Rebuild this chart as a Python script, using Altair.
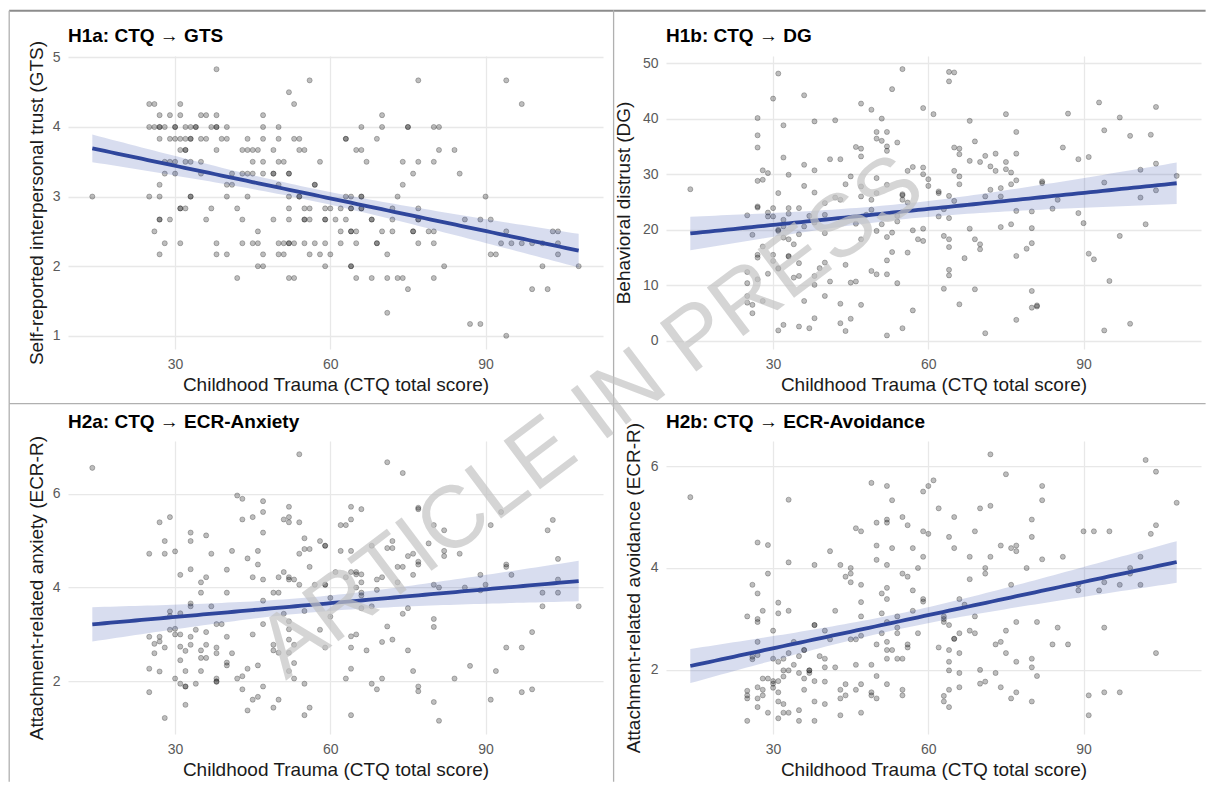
import altair as alt
import numpy as np
import pandas as pd

# ---------------- data ----------------
X_DOMAIN = [9.3, 112.7]
X_TICKS = [30, 60, 90]
X_TITLE = "Childhood Trauma (CTQ total score)"

# H1a: GTS takes values in steps of 1/6; CTQ scores per GTS level
h1a_gts_levels = [4.83, 4.67, 4.5, 4.33, 4.17, 4.0, 3.83, 3.67, 3.5, 3.33, 3.17, 3.0,
                  2.83, 2.67, 2.5, 2.33, 2.17, 2.0, 1.83, 1.67, 1.33, 1.17, 1.0]
h1a_ctq_rows = [
    [38],
    [56, 77, 94],
    [52],
    [25, 26, 31, 53, 97],
    [27, 29, 31, 35, 36, 38, 47, 70],
    [25, 26, 27, 27, 28, 30, 30, 32, 33, 34, 34, 37, 38, 38, 40, 47, 50, 66, 70, 75, 75, 80, 81],
    [27, 29, 30, 31, 32, 33, 33, 35, 36, 39, 40, 44, 47, 50, 53, 54, 63, 63, 69],
    [31, 32, 32, 38, 43, 44, 45, 46, 49, 54, 55, 65, 66, 81, 84],
    [28, 29, 30, 32, 33, 35, 45, 47, 50, 51, 58, 67, 74, 77, 80],
    [28, 30, 35, 41, 43, 44, 45, 47, 49, 49, 52, 52, 76, 85],
    [27, 40, 41, 50, 57, 57, 74],
    [14, 25, 27, 33, 33, 40, 44, 52, 54, 54, 63, 64, 66, 66, 73, 90],
    [31, 31, 32, 37, 42, 52, 55, 56, 59, 60, 62, 64, 64, 66, 66, 72, 77],
    [27, 27, 29, 36, 43, 49, 52, 55, 55, 56, 59, 59, 61, 63, 68, 68, 72, 77, 77, 86, 89, 91],
    [26, 46, 62, 64, 64, 65, 70, 72, 76, 76, 79, 80, 94, 103, 104],
    [28, 31, 38, 43, 45, 46, 50, 51, 52, 52, 53, 55, 57, 59, 62, 65, 69, 69, 77, 80, 93, 95, 97, 99, 101, 104],
    [27, 38, 40, 47, 50, 51, 56, 58, 60, 71, 91, 92, 104],
    [46, 47, 59, 64, 64, 82, 101, 108],
    [42, 52, 53, 65, 68, 71, 73, 74, 80],
    [75, 99, 102],
    [71],
    [87, 89],
    [94],
]

# H1b: (CTQ, DG)
h1b_points = [
    (14, 27.3), (27, 40.1), (27, 37), (27, 34.8), (27, 28.8), (28, 29.0), (28, 30.7), (29, 30.2),
    (30, 43.6), (31, 48.1), (32, 38.8), (32, 33), (33, 29.9), (31, 26.6), (25, 22.6), (26, 19.1),
    (27, 24.2), (27, 24.0), (29, 23.1), (29, 22.4), (30, 23.9), (30, 22.4), (31, 20), (31, 19.8),
    (32, 21.8), (32, 20.6), (33, 23.9), (33, 22.9), (32, 18.6), (33, 18.3), (34, 17.4), (35, 23.9),
    (36, 27.9), (36, 31.7), (36, 44.2), (38, 39.5), (38, 30.7), (38, 26.7), (37, 22.5), (36, 20.6),
    (35, 19.2), (38, 21.3), (25, 12.4), (25, 10.4), (25, 8.1), (25, 6.9), (26, 6.5), (26, 5),
    (27, 15.5), (27, 15), (28, 17), (27, 11.1), (28, 7.2), (29, 12.1), (30, 15.5), (30, 14.4),
    (31, 13.1), (31, 13.0), (33, 15.2), (33, 15.3), (34, 11.4), (35, 11.7), (35, 14), (36, 7.2),
    (38, 11.7), (38, 10.1), (39, 13.1), (40, 14.1), (40, 8.1), (41, 10.7), (31, 1.9), (32, 2.9),
    (35, 2.6), (37, 2.3), (38, 4.1), (40, 19.4), (40, 22.7), (40, 24.8), (41, 32.7), (42, 39.7),
    (42, 25.8), (43, 25.4), (43, 32.7), (43, 6.7), (43, 3.2), (44, 28.2), (44, 13.7), (44, 1.8),
    (45, 29.6), (45, 10.5), (45, 4), (46, 34.9), (46, 10.7), (46, 21.1), (47, 42.7), (47, 34.6),
    (47, 33.2), (47, 27.8), (47, 26), (47, 18.3), (47, 6.5), (48, 22.7), (49, 41.6), (49, 25.4),
    (49, 23.6), (49, 12.6), (50, 37.6), (50, 36.4), (50, 29.3), (50, 26.6), (50, 19.8), (50, 12),
    (51, 40), (51, 36), (51, 21), (52, 37.6), (52, 35), (52, 34.2), (52, 28.1), (52, 18.7),
    (52, 14.5), (52, 12), (52, 1), (53, 45.3), (53, 19.5), (53, 16), (54, 35.7), (54, 22.5),
    (54, 21.5), (54, 10.4), (55, 48.9), (55, 26.4), (55, 26.2), (55, 25.4), (55, 2.3), (56, 30.6),
    (56, 24.9), (56, 15.9), (57, 31.3), (57, 19.9), (57, 5.5), (58, 18.3), (59, 41.9), (59, 31.2),
    (59, 30), (59, 20.2), (59, 18), (60, 29.1), (60, 27.9), (61, 40.8), (62, 26.9), (62, 26.6),
    (62, 22.4), (63, 18.9), (63, 9.4), (64, 48.4), (65, 48.3), (64, 46.7), (64, 26.1), (64, 22.1),
    (64, 18.3), (64, 16.9), (64, 12.8), (64, 11.8), (63, 23.7), (65, 34.8), (66, 34.6), (66, 33.6),
    (65, 30.6), (66, 29.6), (66, 28.2), (65, 25.2), (66, 6.6), (67, 14.9), (68, 39.6), (68, 32.4),
    (68, 20.2), (69, 35.9), (69, 18.3), (69, 9.3), (70, 32.2), (70, 17.4), (70, 16.5), (71, 33.3),
    (71, 26), (71, 1.4), (72, 31.4), (72, 27.2), (73, 33.7), (73, 30.6), (74, 27.5), (74, 26),
    (74, 20.5), (75, 32.2), (75, 30.9), (75, 40.8), (76, 30.3), (76, 28.2), (76, 21), (77, 37.6),
    (77, 33.7), (77, 28.9), (77, 23.4), (77, 15.3), (77, 3.8), (79, 16.6), (80, 23.3), (80, 20.3),
    (80, 17.6), (80, 9), (80, 6), (81, 6.4), (81, 6.2), (82, 28.7), (82, 28.4), (84, 23.8),
    (85, 25.4), (86, 34.8), (87, 40.9), (89, 32.7), (89, 23), (90, 21.2), (91, 33.1), (91, 15.7),
    (92, 14.7), (93, 42.9), (94, 37.9), (94, 28.5), (94, 1.9), (95, 10.8), (97, 40.2), (97, 18.9),
    (99, 36.9), (99, 3.1), (101, 30.8), (101, 25.8), (102, 21), (103, 37.1), (104, 42.1), (104, 31.9),
    (104, 27.1), (108, 29.7),
]

# H2a: (CTQ, ECR-R anxiety)
h2a_points = [
    (14, 6.55), (25, 4.72), (25, 2.95), (25, 2.27), (25, 1.77), (26, 2.8), (26, 2.6), (27, 5.39),
    (27, 2.95), (27, 2.85), (27, 2.21), (28, 4.99), (28, 4.72), (28, 2.72), (28, 1.22), (29, 5.5),
    (29, 3.49), (29, 3.39), (29, 3.1), (30, 4.77), (30, 3.0), (30, 2.06), (30, 3.12), (31, 4.27),
    (31, 3.45), (31, 3.0), (31, 2.74), (31, 2.45), (31, 1.95), (32, 1.89), (32, 1.89), (32, 1.5),
    (32, 2.65), (32, 2.22), (33, 5.17), (33, 4.99), (33, 4.39), (33, 3.66), (33, 3.6), (33, 2.95),
    (33, 2.78), (34, 3.1), (34, 1.95), (35, 4.11), (35, 3.89), (35, 2.66), (35, 2.5), (35, 2.22),
    (36, 5.11), (36, 4.22), (36, 3.05), (36, 2.78), (36, 2.5), (37, 4.72), (37, 3.6), (38, 3.22),
    (38, 2.72), (38, 2.6), (38, 2.06), (38, 2.0), (38, 1.99), (39, 3.22), (40, 4.38), (40, 3.89),
    (40, 2.95), (40, 2.4), (40, 2.34), (41, 4.78), (41, 2.6), (42, 5.96), (43, 5.89), (43, 5.45),
    (42, 2.06), (43, 2.11), (43, 1.83), (44, 4.62), (44, 2.27), (44, 1.38), (45, 5.5), (45, 4.22),
    (45, 3.0), (45, 1.61), (46, 1.67), (46, 4.78), (46, 4.49), (46, 2.34), (47, 5.84), (47, 5.61),
    (47, 5.17), (47, 4.17), (47, 3.72), (47, 3.22), (47, 1.89), (49, 3.89), (49, 2.78), (49, 2.66),
    (49, 1.44), (50, 3.89), (50, 4.22), (50, 2.61), (50, 1.61), (51, 5.45), (51, 4.33), (51, 3.44),
    (52, 5.72), (52, 5.5), (52, 5.39), (52, 4.22), (52, 4.17), (52, 3.28), (52, 3.11), (52, 2.89),
    (52, 2.61), (52, 2.22), (53, 4.17), (53, 2.78), (53, 2.39), (53, 2.06), (54, 6.84), (54, 5.39),
    (54, 4.72), (54, 4.06), (55, 5.05), (55, 4.82), (55, 3.5), (55, 1.95), (55, 1.28), (56, 4.82),
    (56, 4.44), (56, 1.44), (57, 4.06), (58, 4.99), (58, 3.1), (59, 4.89), (59, 4.89), (59, 4.06),
    (59, 4.06), (59, 2.72), (60, 3.38), (60, 3.78), (61, 4.33), (62, 5.33), (63, 5.33), (62, 4.78),
    (63, 4.22), (63, 2.06), (64, 5.72), (64, 5.45), (64, 4.78), (64, 4.33), (64, 2.96), (64, 2.72),
    (64, 2.27), (64, 1.28), (65, 4.33), (65, 4.28), (65, 4.0), (65, 3.0), (66, 5.67), (66, 4.28),
    (66, 4.11), (66, 3.89), (66, 3.83), (66, 3.56), (67, 2.66), (68, 4.89), (68, 3.6), (68, 1.95),
    (69, 4.17), (69, 3.95), (69, 1.83), (70, 4.22), (70, 2.84), (70, 2.06), (71, 6.67), (71, 4.84),
    (71, 3.17), (72, 4.99), (72, 4.84), (72, 2.89), (73, 4.44), (73, 4.11), (74, 6.44), (74, 4.44),
    (74, 3.44), (75, 4.67), (75, 3.56), (75, 2.66), (76, 4.72), (76, 4.27), (76, 2.22), (77, 5.7),
    (77, 5.67), (77, 4.55), (77, 4.49), (77, 1.89), (77, 1.79), (79, 4.94), (80, 5.33), (80, 4.06),
    (80, 3.33), (80, 3.16), (80, 1.56), (81, 4.0), (81, 1.16), (82, 5.22), (82, 4.78), (82, 4.67),
    (84, 2.06), (85, 4.72), (86, 4.0), (87, 2.33), (89, 4.27), (89, 3.94), (90, 4.06), (91, 5.33),
    (91, 1.61), (92, 2.22), (93, 5.61), (94, 4.49), (94, 4.44), (94, 2.72), (95, 4.27), (97, 2.72),
    (97, 1.77), (99, 3.05), (99, 1.83), (101, 3.89), (101, 3.6), (102, 5.22), (103, 5.44), (104, 4.61),
    (104, 4.17), (104, 3.89), (108, 3.6),
]

# H2b: (CTQ, ECR-R avoidance)
h2b_points = [
    (14, 5.39), (25, 3.05), (25, 1.59), (25, 1.5), (25, 1.44), (25, 1.0), (26, 3.67), (26, 2.26),
    (26, 2.21), (27, 4.5), (27, 3.5), (27, 3.0), (27, 2.94), (27, 2.55), (27, 2.29), (27, 1.66),
    (27, 1.44), (27, 1.27), (28, 3.16), (28, 1.83), (28, 1.61), (28, 1.5), (29, 4.45), (29, 3.89),
    (29, 1.83), (29, 1.16), (30, 2.77), (30, 2.22), (30, 1.78), (30, 1.73), (30, 1.65), (31, 3.32),
    (31, 3.11), (31, 2.16), (31, 1.78), (31, 1.56), (31, 1.38), (31, 1.05), (32, 2.22), (32, 1.99),
    (32, 1.87), (32, 1.33), (32, 1.16), (33, 5.34), (33, 4.11), (33, 3.16), (33, 2.33), (33, 1.99),
    (33, 1.16), (34, 2.55), (34, 2.1), (35, 2.27), (35, 1.94), (35, 1.21), (35, 1.0), (36, 2.39),
    (36, 2.39), (36, 1.83), (36, 1.61), (37, 1.99), (37, 1.99), (37, 1.94), (38, 4.06), (38, 2.88),
    (38, 2.88), (38, 1.78), (38, 1.38), (38, 1.0), (39, 2.27), (40, 2.77), (40, 2.22), (40, 2.05),
    (40, 1.77), (40, 1.33), (41, 4.33), (41, 2.6), (42, 2.05), (42, 3.16), (43, 4.06), (43, 1.61),
    (43, 1.44), (43, 1.11), (44, 3.83), (44, 1.72), (44, 1.5), (45, 4.0), (45, 3.89), (45, 3.72),
    (45, 2.6), (46, 4.78), (46, 2.6), (46, 2.1), (46, 1.61), (47, 4.72), (47, 3.67), (47, 3.33),
    (47, 3.05), (47, 2.67), (47, 1.72), (47, 1.16), (49, 5.67), (49, 2.1), (49, 1.56), (49, 1.5),
    (50, 4.89), (50, 4.44), (50, 4.16), (50, 2.5), (50, 1.88), (50, 1.44), (51, 3.5), (51, 3.11),
    (51, 2.72), (52, 5.61), (52, 4.95), (52, 4.89), (52, 4.06), (52, 3.61), (52, 3.39), (52, 2.94),
    (52, 2.55), (52, 2.39), (52, 2.22), (52, 1.72), (53, 5.33), (53, 4.39), (53, 2.39), (54, 3.05),
    (54, 2.83), (54, 2.72), (54, 2.22), (55, 5.0), (55, 3.89), (55, 2.22), (55, 1.61), (55, 1.5),
    (56, 4.84), (56, 3.83), (56, 2.5), (56, 2.44), (57, 4.39), (57, 3.56), (57, 3.16), (58, 4.0),
    (58, 2.72), (59, 5.5), (59, 4.72), (59, 4.22), (59, 3.39), (59, 3.34), (60, 5.61), (60, 4.67),
    (61, 5.72), (62, 5.17), (62, 2.44), (63, 3.05), (63, 3.0), (63, 2.94), (63, 1.49), (63, 1.38),
    (64, 4.61), (64, 2.88), (64, 2.39), (64, 2.16), (64, 1.99), (64, 1.61), (64, 1.27), (65, 5.0),
    (65, 4.39), (65, 2.61), (65, 2.61), (66, 3.39), (66, 2.72), (66, 2.33), (66, 1.94), (66, 1.66),
    (67, 3.28), (68, 4.22), (68, 3.78), (68, 2.77), (69, 4.72), (69, 3.05), (69, 2.72), (70, 5.17),
    (70, 2.0), (70, 1.73), (71, 4.0), (71, 3.89), (71, 1.77), (72, 5.22), (72, 6.23), (72, 4.22),
    (73, 2.5), (73, 1.94), (74, 2.55), (74, 4.44), (74, 1.66), (75, 5.84), (75, 2.77), (75, 2.33),
    (76, 3.67), (76, 4.39), (76, 1.44), (77, 4.44), (77, 4.33), (77, 2.94), (77, 2.16), (77, 1.56),
    (79, 4.0), (80, 4.95), (80, 4.61), (80, 2.22), (80, 2.05), (80, 1.38), (81, 2.94), (81, 1.88),
    (82, 5.61), (82, 5.33), (82, 4.17), (84, 2.5), (85, 2.83), (86, 4.22), (87, 2.5), (89, 3.67),
    (89, 3.56), (90, 4.72), (91, 1.5), (91, 1.11), (92, 4.72), (93, 3.56), (94, 3.72), (94, 2.83),
    (94, 1.56), (95, 4.72), (97, 3.67), (97, 1.56), (99, 4.0), (99, 3.89), (101, 3.67), (101, 4.22),
    (102, 6.12), (103, 4.67), (104, 5.89), (104, 4.84), (104, 2.33), (108, 5.28),
]

panel_titles = ["H1a: CTQ \u2192 GTS", "H1b: CTQ \u2192 DG",
                "H2a: CTQ \u2192 ECR-Anxiety", "H2b: CTQ \u2192 ECR-Avoidance"]
y_titles = ["Self-reported interpersonal trust (GTS)", "Behavioral distrust (DG)",
            "Attachment-related anxiety (ECR-R)", "Attachment-related avoidance (ECR-R)"]
y_domains = [[0.81, 5.02], [-1.44, 51.26], [0.876, 7.12], [0.74, 6.49]]
y_ticks = [[1, 2, 3, 4, 5], [0, 10, 20, 30, 40, 50], [2, 4, 6], [2, 4, 6]]
watermark_text = "ARTICLE IN PRESS"

# ---------------- styling ----------------
FONT = "Liberation Sans"
W, H = 535, 293
LINE_COLOR = "#2f469c"
BAND_COLOR = "#3d55b0"
OUTER = "#8c8c8c"
INNER = "#b0b0b0"


def lm_band(x, y, n=80):
    x = np.asarray(x, float)
    y = np.asarray(y, float)
    b1, b0 = np.polyfit(x, y, 1)
    xs = np.linspace(x.min(), x.max(), n)
    fit = b0 + b1 * xs
    resid = y - (b0 + b1 * x)
    s = np.sqrt((resid ** 2).sum() / (len(x) - 2))
    sxx = ((x - x.mean()) ** 2).sum()
    se = s * np.sqrt(1.0 / len(x) + (xs - x.mean()) ** 2 / sxx)
    t = 1.97
    return pd.DataFrame({"x": xs, "fit": fit, "lo": fit - t * se, "hi": fit + t * se})


def panel(x, y, idx, title_x, borders, watermark=None):
    pts = pd.DataFrame({"ctq": x, "val": y})
    band = lm_band(x, y)
    xs = alt.Scale(domain=X_DOMAIN, nice=False, zero=False)
    ys = alt.Scale(domain=y_domains[idx], nice=False, zero=False)
    xa = alt.Axis(values=X_TICKS, title=X_TITLE, titleY=35.5, titleBaseline="middle")
    ya = alt.Axis(values=y_ticks[idx], title=y_titles[idx], titleX=title_x,
                  titleBaseline="middle")

    points = alt.Chart(pts).mark_circle(
        size=26, fill="black", fillOpacity=0.26, stroke="black",
        strokeOpacity=0.3, strokeWidth=0.8
    ).encode(
        x=alt.X("ctq:Q", scale=xs, axis=xa),
        y=alt.Y("val:Q", scale=ys, axis=ya),
    )
    area = alt.Chart(band).mark_area(color=BAND_COLOR, opacity=0.2).encode(
        x=alt.X("x:Q", scale=xs, axis=xa),
        y=alt.Y("lo:Q", scale=ys, axis=ya),
        y2="hi:Q",
    )
    line = alt.Chart(band).mark_line(color=LINE_COLOR, strokeWidth=3.8).encode(
        x=alt.X("x:Q", scale=xs, axis=xa),
        y=alt.Y("fit:Q", scale=ys, axis=ya),
    )
    tdf = pd.DataFrame({"t": [panel_titles[idx]]})
    title = alt.Chart(tdf).mark_text(
        align="left", baseline="alphabetic", font=FONT, fontSize=19,
        fontWeight="bold", color="black"
    ).encode(x=alt.value(0), y=alt.value(-13.6), text="t:N")

    one = pd.DataFrame({"k": [0]})
    layers = [points, area, line, title]
    for kind, a, b, c, col, sw in borders:
        if kind == "h":
            enc = dict(x=alt.value(a), x2=alt.value(b), y=alt.value(c))
        else:
            enc = dict(y=alt.value(a), y2=alt.value(b), x=alt.value(c))
        layers.append(alt.Chart(one).mark_rule(color=col, strokeWidth=sw).encode(**enc))
    if watermark is not None:
        wx, wy = watermark
        wdf = pd.DataFrame({"t": [watermark_text]})
        layers.append(alt.Chart(wdf).mark_text(
            font=FONT, fontSize=88, angle=323, align="center", baseline="middle",
            color="#c4c4c4", opacity=0.7
        ).encode(x=alt.value(wx), y=alt.value(wy), text="t:N"))
    return alt.layer(*layers).properties(width=W, height=H)


h1a_ctq = [c for row in h1a_ctq_rows for c in row]
h1a_gts = [lv for lv, row in zip(h1a_gts_levels, h1a_ctq_rows) for _ in row]

p1 = panel(h1a_ctq, h1a_gts, 0, -31.3, [
    ("h", -58.8, 545.6, -45.3, OUTER, 2),
    ("v", -45.3, 347.7, -58.8, INNER, 1.3),
])
p2 = panel([p[0] for p in h1b_points], [p[1] for p in h1b_points], 1, -42.2, [
    ("h", -52.4, 539.6, -45.3, OUTER, 2),
    ("v", -45.3, 347.7, -52.4, INNER, 1.3),
])
p3 = panel([p[0] for p in h2a_points], [p[1] for p in h2a_points], 2, -31.7, [
    ("h", -58.8, 545.6, -37.4, INNER, 1.3),
    ("v", -37.4, 340.6, -58.8, INNER, 1.3),
])
p4 = panel([p[0] for p in h2b_points], [p[1] for p in h2b_points], 3, -32.5, [
    ("h", -52.4, 539.6, -37.4, INNER, 1.3),
    ("v", -37.4, 340.6, -52.4, INNER, 1.3),
], watermark=(-74.4, -23.4))

chart = alt.concat(
    p1, p2, p3, p4, columns=2, bounds="flush",
    spacing={"row": 92.1, "column": 63},
).properties(
    padding={"left": 0, "top": 1, "right": 0, "bottom": 0}
).configure_view(
    stroke=None
).configure_axis(
    grid=True, gridColor="#e8e8e8", gridWidth=1.3,
    domain=False, ticks=False,
    labelFont=FONT, labelFontSize=14, labelColor="#5a5a5a", labelPadding=8,
    titleFont=FONT, titleFontSize=19, titleFontWeight="normal", titleColor="#1a1a1a",
)

chart.save("out.html", embed_options={"renderer": "svg", "actions": False})
